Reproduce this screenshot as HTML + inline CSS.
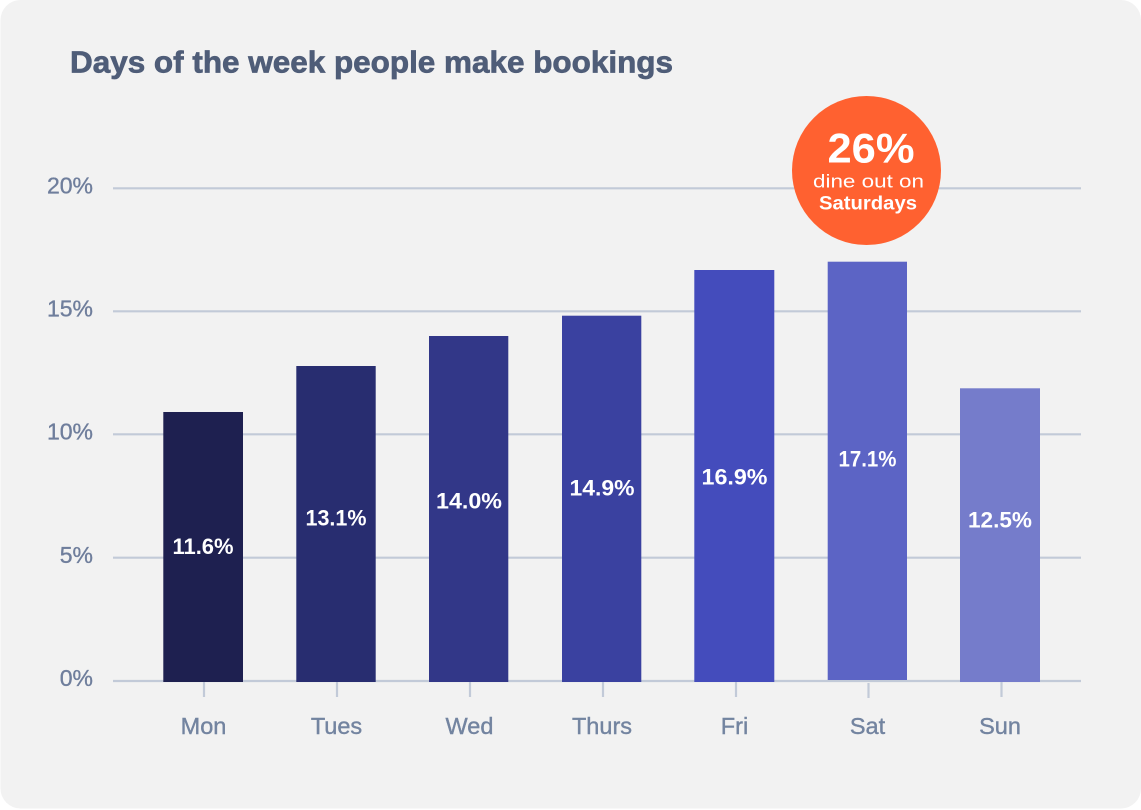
<!DOCTYPE html>
<html><head><meta charset="utf-8"><style>
html,body{margin:0;padding:0;background:#fff;}
svg{display:block;}
text{font-family:"Liberation Sans",sans-serif;}
</style></head><body>
<svg width="1141" height="810" viewBox="0 0 1141 810" xmlns="http://www.w3.org/2000/svg">
<rect x="0.5" y="0" width="1140.5" height="808.5" rx="20" ry="20" fill="#f2f2f2"/>
<text x="70" y="72.5" font-size="31" font-weight="bold" fill="#4f5d78" stroke="#4f5d78" stroke-width="0.7" textLength="603" lengthAdjust="spacingAndGlyphs">Days of the week people make bookings</text>
<g stroke="#c2cad8" stroke-width="2.2">
<line x1="113" y1="188.3" x2="1081" y2="188.3"/>
<line x1="113" y1="311.3" x2="1081" y2="311.3"/>
<line x1="113" y1="434.3" x2="1081" y2="434.3"/>
<line x1="113" y1="557.7" x2="1081" y2="557.7"/>
<line x1="113" y1="681" x2="1081" y2="681"/>
<line x1="204" y1="682" x2="204" y2="697"/>
<line x1="337" y1="682" x2="337" y2="697"/>
<line x1="470" y1="682" x2="470" y2="697"/>
<line x1="603" y1="682" x2="603" y2="697"/>
<line x1="736" y1="682" x2="736" y2="697"/>
<line x1="868.5" y1="683" x2="868.5" y2="698"/>
<line x1="1001.5" y1="682" x2="1001.5" y2="697"/>
</g>
<g font-size="23" fill="#6f7e9c" stroke="#6f7e9c" stroke-width="0.35" text-anchor="end">
<text x="93" y="193.5">20%</text>
<text x="93" y="316.5">15%</text>
<text x="93" y="439.5">10%</text>
<text x="93" y="563">5%</text>
<text x="93" y="686">0%</text>
</g>
<rect x="163.3" y="412" width="79.7" height="270" fill="#1e2050"/>
<rect x="296.3" y="366" width="79.4" height="316" fill="#282d70"/>
<rect x="429" y="336" width="79.3" height="346" fill="#323788"/>
<rect x="562" y="315.7" width="79.3" height="366.3" fill="#3a41a0"/>
<rect x="694.3" y="270" width="80" height="412" fill="#444cbc"/>
<rect x="827.7" y="261.7" width="79.3" height="418.3" fill="#5c64c5"/>
<rect x="960" y="388.3" width="80" height="293.7" fill="#757ccb"/>
<g font-size="22" font-weight="bold" fill="#ffffff" text-anchor="middle">
<text x="203" y="554" textLength="61" lengthAdjust="spacingAndGlyphs">11.6%</text>
<text x="336" y="525.7" textLength="61" lengthAdjust="spacingAndGlyphs">13.1%</text>
<text x="469" y="508.3" textLength="66" lengthAdjust="spacingAndGlyphs">14.0%</text>
<text x="602" y="495.7" textLength="65" lengthAdjust="spacingAndGlyphs">14.9%</text>
<text x="734.5" y="484.3" textLength="66" lengthAdjust="spacingAndGlyphs">16.9%</text>
<text x="867.5" y="466.7" textLength="58" lengthAdjust="spacingAndGlyphs">17.1%</text>
<text x="1000" y="527.7" textLength="64" lengthAdjust="spacingAndGlyphs">12.5%</text>
</g>
<g font-size="23.5" fill="#7384a0" stroke="#7384a0" stroke-width="0.4" text-anchor="middle">
<text x="203.5" y="734">Mon</text>
<text x="336.5" y="734">Tues</text>
<text x="469.5" y="734">Wed</text>
<text x="602" y="734">Thurs</text>
<text x="734.5" y="734">Fri</text>
<text x="867.5" y="734">Sat</text>
<text x="1000" y="734">Sun</text>
</g>
<circle cx="866.5" cy="170.5" r="74.5" fill="#ff6130"/>
<g fill="#ffffff" text-anchor="middle">
<text x="871" y="162.3" font-size="42" font-weight="bold" textLength="87" lengthAdjust="spacingAndGlyphs">26%</text>
<text x="868.5" y="187.3" font-size="18.5" textLength="111" lengthAdjust="spacingAndGlyphs">dine out on</text>
<text x="868" y="209.3" font-size="19" font-weight="bold" textLength="98" lengthAdjust="spacingAndGlyphs">Saturdays</text>
</g>
</svg>
</body></html>
